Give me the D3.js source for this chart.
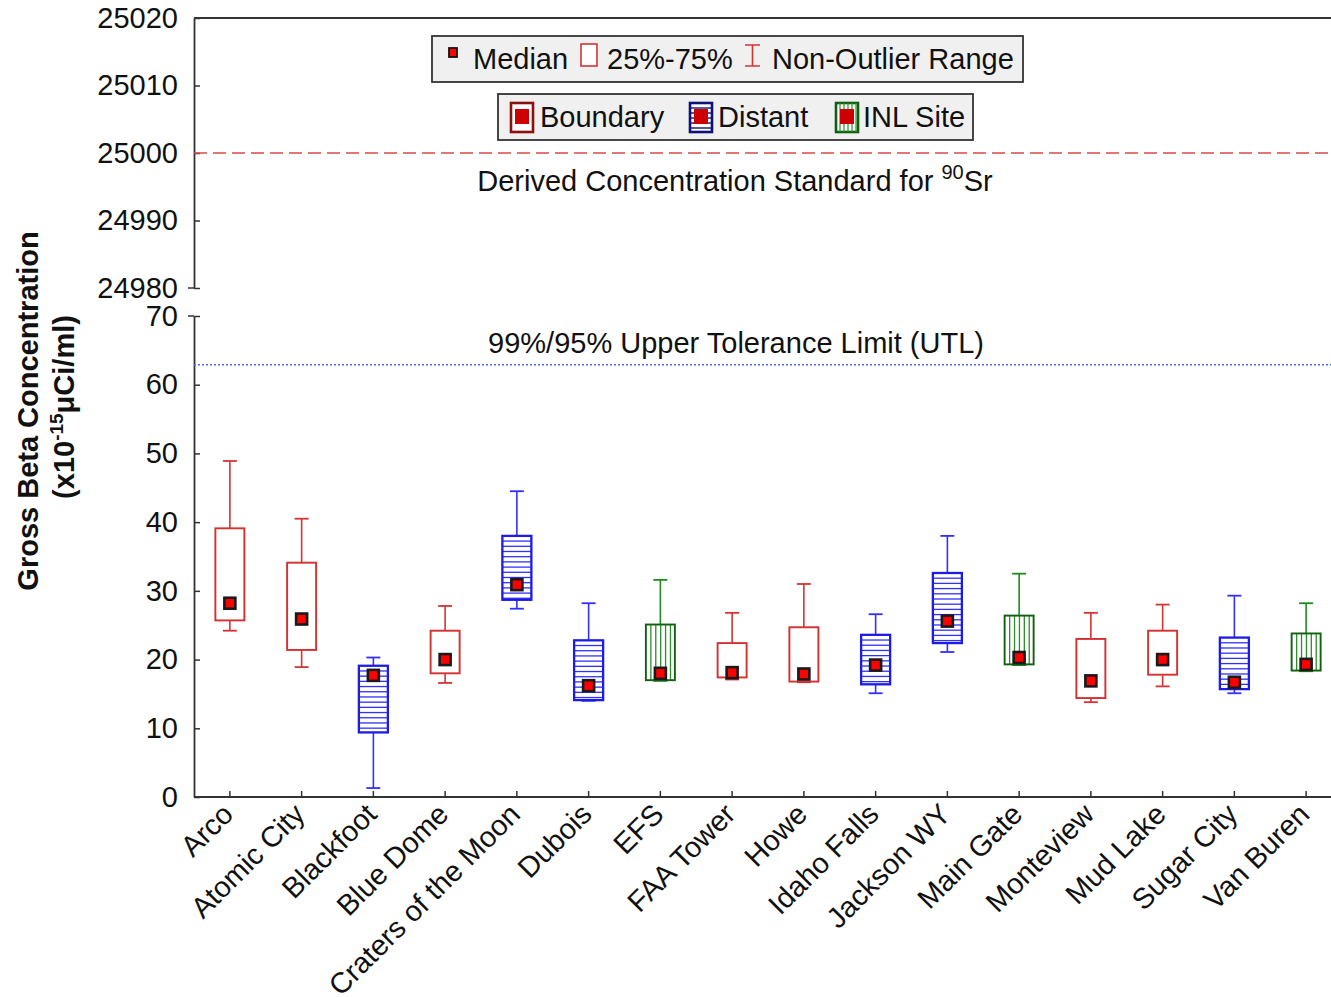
<!DOCTYPE html>
<html><head><meta charset="utf-8">
<script src="https://cdn.jsdelivr.net/npm/d3@7"></script>
<style>
body{margin:0;background:#fff;}
text{font-family:"Liberation Sans", Arial, sans-serif;}
</style>
</head><body>
<svg id="chart" width="1331" height="997"></svg>
<script>
// ---------------- data ----------------
const categories = ["Arco","Atomic City","Blackfoot","Blue Dome","Craters of the Moon","Dubois","EFS","FAA Tower","Howe","Idaho Falls","Jackson WY","Main Gate","Monteview","Mud Lake","Sugar City","Van Buren"];
const groups = ["Boundary","Boundary","Distant","Boundary","Distant","Distant","INL Site","Boundary","Boundary","Distant","Distant","INL Site","Boundary","Boundary","Distant","INL Site"];
const whiskerLow  = [24.2, 18.9, 1.3, 16.6, 27.4, 14.0, 16.9, 17.1, 16.7, 15.1, 21.1, 19.2, 13.8, 16.1, 15.1, 18.3];
const q1          = [25.7, 21.4, 9.4, 18.0, 28.7, 14.1, 17.0, 17.4, 16.8, 16.4, 22.4, 19.3, 14.4, 17.8, 15.7, 18.4];
const median      = [28.2, 25.9, 17.7, 20.0, 30.9, 16.2, 18.0, 18.1, 17.9, 19.2, 25.6, 20.3, 16.9, 20.0, 16.7, 19.3];
const q3          = [39.1, 34.1, 19.1, 24.2, 38.0, 22.8, 25.1, 22.4, 24.7, 23.6, 32.6, 26.4, 23.0, 24.2, 23.2, 23.8];
const whiskerHigh = [48.9, 40.5, 20.3, 27.8, 44.5, 28.2, 31.6, 26.8, 31.0, 26.6, 38.0, 32.5, 26.8, 28.0, 29.3, 28.2];
const lowerTicks = [0, 10, 20, 30, 40, 50, 60, 70];
const upperTicks = [24980, 24990, 25000, 25010, 25020];
const dcsValue = 25000;
const utlValue = 62.9;
const groupNames = ["Boundary", "Distant", "INL Site"];

// ---------------- styles ----------------
const FS = "29px";
const style = {
  "Boundary": {line: "#d63333", box: "#d43030", stripe: null},
  "Distant":  {line: "#3030ff", box: "#1c1ce6", stripe: "h"},
  "INL Site": {line: "#1f8a1f", box: "#106010", stripe: "v", stripeColor: "#2a8f2a"}
};

const svg = d3.select("#chart");
const left = 194, right = 1331;
const x = d3.scaleBand().domain(categories).range([194, 1342]);
const yLow = d3.scaleLinear().domain([0, 70]).range([797, 316]);
const yUp = d3.scaleLinear().domain([24980, 25020]).range([288, 18]);
const axisColor = "#333";

// ---------------- axes ----------------
function styleAxis(g) {
  g.selectAll("path").attr("stroke", axisColor).attr("stroke-width", 1.8);
  g.selectAll("line").attr("stroke", axisColor).attr("stroke-width", 1.5);
  g.selectAll("text").attr("fill", "#111").style("font-size", FS)
    .style("font-family", '"Liberation Sans", Arial, sans-serif');
}
svg.append("g").attr("transform", `translate(${left},0)`)
  .call(d3.axisLeft(yLow).tickValues(lowerTicks).tickSizeInner(-6).tickSizeOuter(0).tickPadding(16))
  .call(styleAxis);
svg.append("g").attr("transform", `translate(${left},0)`)
  .call(d3.axisLeft(yUp).tickValues(upperTicks).tickSizeInner(-6).tickSizeOuter(0).tickPadding(16).tickFormat(d3.format("d")))
  .call(styleAxis);
// outward ticks at the panel break
svg.append("line").attr("x1", left - 6).attr("x2", left).attr("y1", yUp(24980)).attr("y2", yUp(24980)).attr("stroke", axisColor).attr("stroke-width", 1.5);
svg.append("line").attr("x1", left - 6).attr("x2", left).attr("y1", yLow(70)).attr("y2", yLow(70)).attr("stroke", axisColor).attr("stroke-width", 1.5);
// top frame line
svg.append("line").attr("x1", left).attr("x2", right).attr("y1", yUp(25020)).attr("y2", yUp(25020)).attr("stroke", axisColor).attr("stroke-width", 1.8);
// bottom axis
const xAxisG = svg.append("g").attr("transform", `translate(0,${yLow(0)})`)
  .call(d3.axisBottom(x).tickSizeInner(-6).tickSizeOuter(0).tickFormat(""))
  .call(styleAxis);
xAxisG.select("path").attr("d", `M${left},0H${right}`);
// x labels
svg.append("g").selectAll("text").data(categories).join("text")
  .attr("transform", d => `translate(${x(d) + x.bandwidth()/2 + 5},${yLow(0) + 19}) rotate(-45)`)
  .attr("text-anchor", "end")
  .style("font-size", FS).attr("fill", "#111")
  .text(d => d);

// y title
svg.append("text").attr("transform", "translate(38,411) rotate(-90)")
  .attr("text-anchor", "middle").style("font-size", FS).style("font-weight", "bold").attr("fill", "#111")
  .text("Gross Beta Concentration");
const yt2 = svg.append("text").attr("transform", "translate(74,407) rotate(-90)")
  .attr("text-anchor", "middle").style("font-size", FS).style("font-weight", "bold").attr("fill", "#111");
yt2.append("tspan").text("(x10");
yt2.append("tspan").attr("dy", -11).style("font-size", "19px").text("-15");
yt2.append("tspan").attr("dy", 11).text("μCi/ml)");

// ---------------- reference lines ----------------
svg.append("line").attr("x1", left).attr("x2", right).attr("y1", yUp(dcsValue)).attr("y2", yUp(dcsValue))
  .attr("stroke", "#d94a4a").attr("stroke-width", 1.6).attr("stroke-dasharray", "13,6");
const dcs = svg.append("text").attr("x", 735).attr("y", yUp(dcsValue) + 38).attr("text-anchor", "middle")
  .style("font-size", FS).attr("fill", "#111");
dcs.append("tspan").text("Derived Concentration Standard for ");
dcs.append("tspan").attr("dy", -12).style("font-size", "20px").text("90");
dcs.append("tspan").attr("dy", 12).text("Sr");

svg.append("line").attr("x1", left).attr("x2", right).attr("y1", yLow(utlValue)).attr("y2", yLow(utlValue))
  .attr("stroke", "#5566ff").attr("stroke-width", 1.6).attr("stroke-dasharray", "2,2");
svg.append("text").attr("x", 736).attr("y", yLow(utlValue) - 12).attr("text-anchor", "middle")
  .style("font-size", FS).attr("fill", "#111").text("99%/95% Upper Tolerance Limit (UTL)");

// ---------------- boxes ----------------
const boxW = 29, capW = 14, medS = 11;
const data = categories.map((c, i) => ({c, g: groups[i], lo: whiskerLow[i], q1: q1[i], med: median[i], q3: q3[i], hi: whiskerHigh[i]}));
const bx = svg.append("g");
data.forEach(d => {
  const cx = x(d.c) + x.bandwidth()/2;
  const s = style[d.g];
  const g = bx.append("g");
  g.append("line").attr("x1", cx).attr("x2", cx).attr("y1", yLow(d.hi)).attr("y2", yLow(d.q3)).attr("stroke", s.line).attr("stroke-width", 1.6);
  g.append("line").attr("x1", cx).attr("x2", cx).attr("y1", yLow(d.q1)).attr("y2", yLow(d.lo)).attr("stroke", s.line).attr("stroke-width", 1.6);
  g.append("line").attr("x1", cx - capW/2).attr("x2", cx + capW/2).attr("y1", yLow(d.hi)).attr("y2", yLow(d.hi)).attr("stroke", s.line).attr("stroke-width", 1.8);
  g.append("line").attr("x1", cx - capW/2).attr("x2", cx + capW/2).attr("y1", yLow(d.lo)).attr("y2", yLow(d.lo)).attr("stroke", s.line).attr("stroke-width", 1.8);
  const top = yLow(d.q3), bot = yLow(d.q1), l = cx - boxW/2;
  g.append("rect").attr("x", l).attr("y", top).attr("width", boxW).attr("height", bot - top).attr("fill", "#fff");
  if (s.stripe === "h") {
    d3.range(top + 5.2, bot - 1, 5.2).forEach(yy => {
      g.append("line").attr("x1", l).attr("x2", l + boxW).attr("y1", yy).attr("y2", yy).attr("stroke", s.line).attr("stroke-width", 1.3);
    });
  } else if (s.stripe === "v") {
    d3.range(l + 5, l + boxW - 1, 4.9).forEach(xx => {
      g.append("line").attr("x1", xx).attr("x2", xx).attr("y1", top).attr("y2", bot).attr("stroke", s.stripeColor).attr("stroke-width", 1.3);
    });
  }
  g.append("rect").attr("x", l).attr("y", top).attr("width", boxW).attr("height", bot - top)
    .attr("fill", "none").attr("stroke", s.box).attr("stroke-width", s.stripe === "h" ? 2.3 : 1.9);
  g.append("rect").attr("x", cx - medS/2).attr("y", yLow(d.med) - medS/2).attr("width", medS).attr("height", medS)
    .attr("fill", "#ff0000").attr("stroke", "#1a1a1a").attr("stroke-width", 2.6);
});

// ---------------- legends ----------------
const lg = svg.append("g");
lg.append("rect").attr("x", 432).attr("y", 36).attr("width", 591).attr("height", 46).attr("fill", "#f0f0f0").attr("stroke", "#333").attr("stroke-width", 1.8);
lg.append("rect").attr("x", 449).attr("y", 48).attr("width", 8).attr("height", 9).attr("fill", "#ff0000").attr("stroke", "#111").attr("stroke-width", 1.8);
lg.append("text").attr("x", 473).attr("y", 69).style("font-size", FS).attr("fill", "#111").text("Median");
lg.append("rect").attr("x", 581).attr("y", 44).attr("width", 16).attr("height", 22).attr("fill", "#fff").attr("stroke", "#d63333").attr("stroke-width", 1.6);
lg.append("text").attr("x", 607).attr("y", 69).style("font-size", FS).attr("fill", "#111").text("25%-75%");
lg.append("path").attr("d", "M745,45H760M752.5,45V66M745,66H760").attr("fill", "none").attr("stroke", "#d63333").attr("stroke-width", 1.6);
lg.append("text").attr("x", 772).attr("y", 69).style("font-size", FS).attr("fill", "#111").text("Non-Outlier Range");

lg.append("rect").attr("x", 498).attr("y", 94).attr("width", 475).attr("height", 46).attr("fill", "#f0f0f0").attr("stroke", "#333").attr("stroke-width", 1.8);
const iconX = [511, 690, 836], textX = [540, 718, 863];
const iconFrame = {"Boundary": "#8b1010", "Distant": "#10107a", "INL Site": "#106010"};
groupNames.forEach((gname, i) => {
  const ix = iconX[i], iy = 103, iw = 22, ih = 29;
  lg.append("rect").attr("x", ix).attr("y", iy).attr("width", iw).attr("height", ih).attr("fill", "#fff").attr("stroke", iconFrame[gname]).attr("stroke-width", 2.6);
  if (style[gname].stripe === "h") {
    d3.range(iy + 5, iy + ih - 1, 5).forEach(yy => lg.append("line").attr("x1", ix).attr("x2", ix + iw).attr("y1", yy).attr("y2", yy).attr("stroke", "#10107a").attr("stroke-width", 1.4));
  } else if (style[gname].stripe === "v") {
    d3.range(ix + 4, ix + iw - 1, 4).forEach(xx => lg.append("line").attr("x1", xx).attr("x2", xx).attr("y1", iy).attr("y2", iy + ih).attr("stroke", "#2a8f2a").attr("stroke-width", 1.2));
  }
  lg.append("rect").attr("x", ix + 4).attr("y", iy + 6).attr("width", iw - 8).attr("height", ih - 14).attr("fill", "#cc0000");
  lg.append("text").attr("x", textX[i]).attr("y", 127).style("font-size", FS).attr("fill", "#111").text(gname);
});
</script>
</body></html>
